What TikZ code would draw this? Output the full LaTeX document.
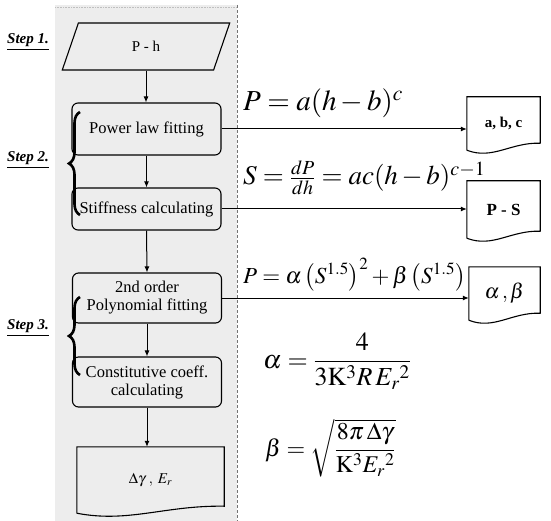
\documentclass[tikz,border=0pt]{standalone}
\usepackage{mathptmx}
\usepackage[no-math]{fontspec}
\setmainfont{Liberation Serif}
\usetikzlibrary{shapes.geometric,decorations.pathreplacing,arrows.meta,calc}
\begin{document}
\begin{tikzpicture}[x=1pt,y=-1pt,
  box/.style={draw, rounded corners=6pt, line width=1.1pt, minimum width=149pt,
    minimum height=#1, inner sep=0pt, align=center,
    font=\fontsize{16.5}{18}\selectfont},
  docbox/.style={minimum width=#1, inner sep=0pt, align=center},
  docline/.style={line width=1.1pt},
  flow/.style={line width=1pt, -{Latex[length=6pt,width=5pt]}},
  steplabel/.style={font=\fontsize{15}{18}\selectfont\bfseries\itshape},
  stepbrace/.style={decorate, decoration={brace, amplitude=11pt}, line width=2.6pt},
  formula/.style={anchor=base west, inner sep=0pt, font=\fontsize{#1}{34}\selectfont},
  formula/.default=29]
\useasboundingbox (0,0) rectangle (551,521);
% shaded background panel
\fill[black!7] (55,5) rectangle (237,521);
\draw[black!55, densely dashed, line width=0.6pt] (237,5) -- (237,521);
\draw[black!25, densely dotted, line width=0.6pt] (55,7) -- (237,7);

% flow nodes
\node[draw, line width=1.1pt, trapezium, trapezium left angle=72, trapezium right angle=108,
      trapezium stretches=true, minimum width=168pt, minimum height=47pt, inner sep=0pt,
      font=\fontsize{15}{18}\selectfont] (ph) at (146,46.5) {P - h};
\node[box=52pt] (plf) at (146.5,129) {Power law fitting};
\node[box=42pt] (stf) at (146.5,209) {Stiffness calculating};
\node[box=50pt] (poly) at (147,298) {2nd order\\Polynomial fitting};
\node[box=50pt] (cons) at (147,382) {Constitutive coeff.\\calculating};

% document-shaped nodes
\node[docbox=73pt, minimum height=53pt, font=\fontsize{15}{18}\selectfont\bfseries] (abc) at (503.5,123.5) {a, b, c};
\node[docbox=73pt, minimum height=57pt, font=\fontsize{17}{20}\selectfont\bfseries] (ps) at (503.5,209.5) {P - S};
\node[docbox=71pt, minimum height=53pt, font=\fontsize{21}{24}\selectfont] (ab) at (504.5,293.5) {$\alpha\,,\beta$};
\node[docbox=147pt, minimum height=66pt, font=\fontsize{15}{18}\selectfont] (out) at (150.5,480) {$\Delta\gamma\;,\;E_{r}$};
\foreach \n in {abc,ps,ab,out}{
  \draw[docline] (\n.south west) -- (\n.north west) -- (\n.north east) -- ($(\n.south east)+(0,-7)$)
    .. controls ($(\n.south east)!0.4!(\n.south west)+(0,-8)$) and ($(\n.south east)!0.65!(\n.south west)+(0,10)$) .. (\n.south west);
}

% vertical flow arrows
\draw[flow] (ph.south) -- (ph.south |- plf.north);
\draw[flow] (plf.south) -- (stf.north);
\draw[flow] (stf.south) -- (poly.north);
\draw[flow] (poly.south) -- (cons.north);
\draw[flow] (cons.south) -- (cons.south |- out.north);

% horizontal arrows
\draw[flow] (plf.east) -- (plf.east -| abc.west);
\draw[flow] (stf.east) -- (stf.east -| ps.west);
\draw[flow] (poly.east) -- (poly.east -| ab.west);

% step labels and braces
\node[steplabel] (s1) at (28,42) {\underline{Step 1.}};
\node[steplabel] (s2) at (28,160) {\underline{Step 2.}};
\node[steplabel] (s3) at (28,328) {\underline{Step 3.}};
\draw[stepbrace] (80,215) -- (80,112);
\draw[stepbrace] (80,375) -- (80,297);

% formulas
\node[formula=29] (f1) at (243,111) {$P = a(h-b)^{c}$};
\node[formula=27] (f2) at (243,185) {$S = \frac{dP}{dh} = ac(h-b)^{c-1}$};
\node[formula=23] (f3) at (243,283) {$P = \alpha\left(S^{1.5}\right)^{2} + \beta\left(S^{1.5}\right)$};
\node[formula=26] (f4) at (263,368) {$\alpha = \displaystyle\frac{4}{3\mathrm{K}^{3}R\,E_{r}{}^{2}}$};
\node[formula=24] (f5) at (265,456) {$\beta = \sqrt{\displaystyle\frac{8\pi\,\Delta\gamma}{\mathrm{K}^{3}E_{r}{}^{2}}}$};
\end{tikzpicture}
\end{document}
